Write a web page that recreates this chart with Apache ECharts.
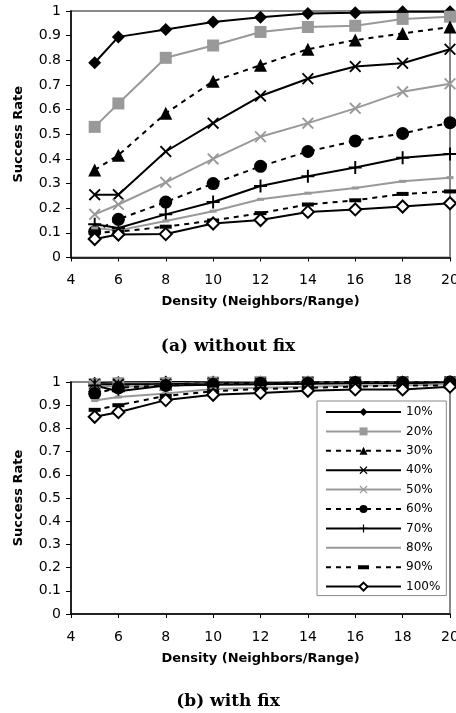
<!DOCTYPE html>
<html>
<head>
<meta charset="utf-8">
<script src="https://cdn.jsdelivr.net/npm/echarts@6/dist/echarts.min.js"></script>
<style>
  html, body { margin: 0; padding: 0; background: #fff; }
  #chart { width: 456px; height: 713px; }
</style>
</head>
<body>
<div id="chart"></div>
<script>
// density values on the x axis
const densities = [5, 6, 8, 10, 12, 14, 16, 18, 20]
const seriesNames = ['10%', '20%', '30%', '40%', '50%', '60%', '70%', '80%', '90%', '100%']

// (a) without fix
const noFix10 = [0.79, 0.895, 0.925, 0.955, 0.975, 0.99, 0.993, 0.997, 0.997]
const noFix20 = [0.53, 0.625, 0.81, 0.86, 0.915, 0.935, 0.94, 0.968, 0.977]
const noFix30 = [0.355, 0.415, 0.585, 0.715, 0.78, 0.845, 0.882, 0.909, 0.935]
const noFix40 = [0.255, 0.255, 0.43, 0.545, 0.655, 0.725, 0.775, 0.788, 0.845]
const noFix50 = [0.175, 0.215, 0.305, 0.4, 0.49, 0.545, 0.605, 0.672, 0.705]
const noFix60 = [0.105, 0.155, 0.225, 0.3, 0.37, 0.43, 0.473, 0.503, 0.547]
const noFix70 = [0.135, 0.12, 0.175, 0.225, 0.29, 0.33, 0.365, 0.405, 0.42]
const noFix80 = [0.12, 0.11, 0.148, 0.188, 0.236, 0.261, 0.282, 0.309, 0.324]
const noFix90 = [0.1, 0.105, 0.125, 0.15, 0.18, 0.215, 0.232, 0.258, 0.268]
const noFix100 = [0.075, 0.093, 0.095, 0.138, 0.152, 0.185, 0.195, 0.207, 0.22]

// (b) with fix
const fix10 = [0.995, 0.998, 1, 1, 1, 1, 1, 1, 1]
const fix20 = [0.99, 0.995, 0.995, 0.998, 1, 1, 1, 1, 1]
const fix30 = [0.985, 0.985, 0.99, 0.995, 0.995, 0.998, 1, 1, 1]
const fix40 = [0.99, 0.99, 0.99, 0.995, 0.995, 0.998, 0.998, 1, 1]
const fix50 = [0.985, 0.98, 0.985, 0.99, 0.99, 0.995, 0.995, 0.998, 0.998]
const fix60 = [0.95, 0.975, 0.985, 0.99, 0.995, 0.995, 0.998, 0.998, 1]
const fix70 = [0.985, 0.96, 0.985, 0.988, 0.99, 0.992, 0.995, 0.995, 0.998]
const fix80 = [0.92, 0.935, 0.95, 0.97, 0.975, 0.98, 0.985, 0.985, 0.99]
const fix90 = [0.88, 0.9, 0.94, 0.96, 0.97, 0.975, 0.98, 0.985, 0.985]
const fix100 = [0.85, 0.87, 0.922, 0.945, 0.953, 0.962, 0.968, 0.968, 0.98]

const noFixData = [noFix10, noFix20, noFix30, noFix40, noFix50, noFix60, noFix70, noFix80, noFix90, noFix100]
const fixData = [fix10, fix20, fix30, fix40, fix50, fix60, fix70, fix80, fix90, fix100]

// marker shapes
const X_PATH = 'path://M0,1.1L1.1,0L5,3.9L8.9,0L10,1.1L6.1,5L10,8.9L8.9,10L5,6.1L1.1,10L0,8.9L3.9,5Z'
const PLUS_PATH = 'path://M4.25,0H5.75V4.25H10V5.75H5.75V10H4.25V5.75H0V4.25H4.25Z'
// legend icons for the two dash-marker series (line + small marker, 75 wide)
const LEGEND_80 = 'path://M0,1H75V3H0Z'
const LEGEND_90 = 'path://M0,1H5V3H0ZM10,1H15V3H10ZM20,1H25V3H20ZM32,0H43V4H32ZM50,1H55V3H50ZM60,1H65V3H60ZM70,1H75V3H70Z'
const GRAY = '#999999'
const DASH = [5, 5]

const styles = [
  { color: '#000', type: 'solid', symbol: 'diamond', size: 13 },
  { color: GRAY, type: 'solid', symbol: 'rect', size: 12 },
  { color: '#000', type: DASH, symbol: 'triangle', size: 13 },
  { color: '#000', type: 'solid', symbol: X_PATH, size: 12 },
  { color: GRAY, type: 'solid', symbol: X_PATH, size: 12 },
  { color: '#000', type: DASH, symbol: 'circle', size: 13 },
  { color: '#000', type: 'solid', symbol: PLUS_PATH, size: 13 },
  { color: GRAY, type: 'solid', symbol: 'rect', size: [7, 3], legendIcon: LEGEND_80 },
  { color: '#000', type: DASH, symbol: 'rect', size: [12, 4], legendIcon: LEGEND_90 },
  { color: '#000', type: 'solid', symbol: 'diamond', size: 12, fill: '#fff' }
]

function makeSeries (values, idx, gridIdx) {
  const s = styles[idx]
  return {
    name: seriesNames[idx],
    type: 'line',
    xAxisIndex: gridIdx,
    yAxisIndex: gridIdx,
    data: densities.map((d, i) => [d, values[i]]),
    symbol: s.symbol,
    symbolSize: s.size,
    showAllSymbol: true,
    clip: false,
    lineStyle: { color: s.color, width: 2, type: s.type },
    itemStyle: s.fill
      ? { color: s.fill, borderColor: s.color, borderWidth: 2 }
      : { color: s.color, borderWidth: 0 },
    emphasis: { disabled: true }
  }
}

const tickFont = { fontFamily: 'DejaVu Sans', fontSize: 14, color: '#000' }
const nameFont = { fontFamily: 'DejaVu Sans', fontSize: 13, fontWeight: 'bold', color: '#000' }
const captionFont = { fontFamily: 'DejaVu Serif', fontSize: 17, fontWeight: 'bold', color: '#000' }

function xAxisFor (gridIdx) {
  return {
    type: 'value',
    gridIndex: gridIdx,
    min: 4,
    max: 20,
    interval: 2,
    name: 'Density (Neighbors/Range)',
    nameLocation: 'middle',
    nameGap: 38,
    nameTextStyle: nameFont,
    axisLine: { lineStyle: { color: '#000', width: 1.5 } },
    axisTick: { inside: false, length: 4, lineStyle: { color: '#000' } },
    axisLabel: Object.assign({ margin: 16 }, tickFont),
    splitLine: { show: false }
  }
}

function yAxisFor (gridIdx) {
  return {
    type: 'value',
    gridIndex: gridIdx,
    min: 0,
    max: 1,
    interval: 0.1,
    name: 'Success Rate',
    nameLocation: 'middle',
    nameGap: 46,
    nameTextStyle: nameFont,
    axisLine: { show: true, lineStyle: { color: '#000', width: 1.5 } },
    axisTick: { show: true, inside: false, length: 5, lineStyle: { color: '#000' } },
    axisLabel: Object.assign({ margin: 10 }, tickFont),
    splitLine: { show: false }
  }
}

const legendData = seriesNames.map((name, i) =>
  styles[i].legendIcon ? { name: name, icon: styles[i].legendIcon } : { name: name })

const chart = echarts.init(document.getElementById('chart'), null, { renderer: 'canvas' })

chart.setOption({
  animation: false,
  backgroundColor: '#fff',
  title: [
    { text: '(a) without fix', left: 'center', top: 333, textStyle: captionFont },
    { text: '(b) with fix', left: 'center', top: 688, textStyle: captionFont }
  ],
  grid: [
    { left: 71, top: 11, width: 379, height: 246.5, show: true, borderColor: '#888', borderWidth: 2, outerBoundsMode: 'none', containLabel: false },
    { left: 71, top: 382, width: 379, height: 232, show: true, borderColor: '#888', borderWidth: 2, outerBoundsMode: 'none', containLabel: false }
  ],
  legend: {
    data: legendData,
    orient: 'vertical',
    left: 317,
    top: 401,
    padding: [5, 6, 3, 8],
    itemWidth: 75,
    itemHeight: 10,
    itemGap: 7.4,
    borderColor: '#888',
    borderWidth: 1,
    backgroundColor: '#fff',
    selectedMode: false,
    textStyle: { fontFamily: 'DejaVu Sans', fontSize: 12, color: '#000' }
  },
  xAxis: [xAxisFor(0), xAxisFor(1)],
  yAxis: [yAxisFor(0), yAxisFor(1)],
  series: [
    ...noFixData.map((v, i) => makeSeries(v, i, 0)),
    ...fixData.map((v, i) => makeSeries(v, i, 1))
  ]
})
</script>
</body>
</html>
